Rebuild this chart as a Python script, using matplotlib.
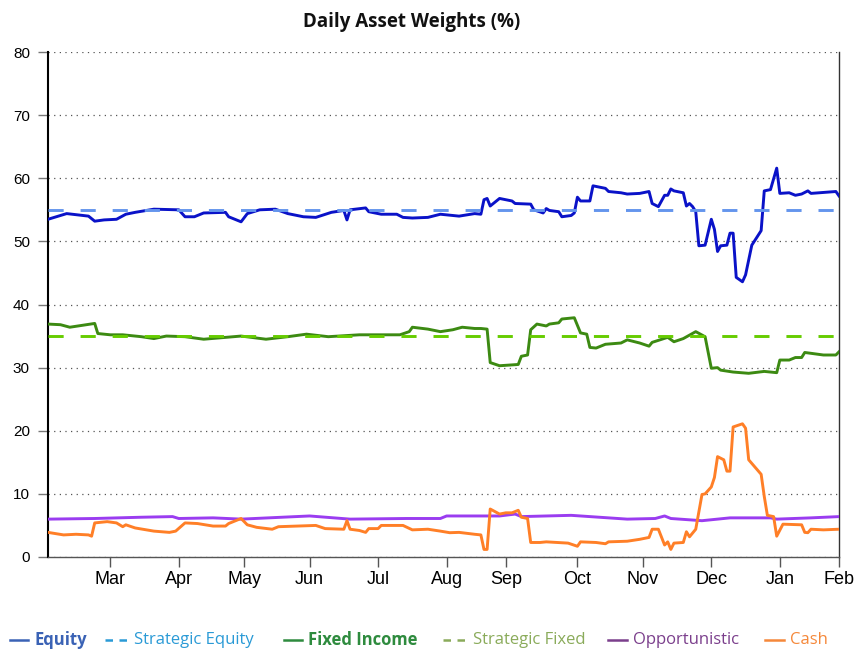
import matplotlib
matplotlib.use("Agg")
import matplotlib.pyplot as plt
from matplotlib.lines import Line2D

# trading-day index (x) and weight in % (y) for each series
equity_x = [0, 2, 6, 13, 15, 18, 22, 25, 28, 34, 42, 44, 47, 50, 57, 58, 62, 64, 68, 73,
            77, 82, 86, 91, 95, 96, 97, 102, 103, 107, 112, 114, 117, 122, 126, 132, 137,
            139, 140, 141, 142, 145, 147, 149, 150, 155, 156, 159, 160, 161, 164, 165, 168,
            169, 170, 171, 174, 175, 179, 180, 184, 186, 190, 193, 194, 196, 198, 199, 200,
            201, 204, 205, 206, 207, 208, 209, 211, 213, 214, 215, 216, 218, 219, 220, 221,
            223, 224, 226, 229, 230, 232, 234, 235, 238, 240, 242, 244, 245, 253, 254]
equity_y = [53.5, 53.8, 54.4, 54.0, 53.2, 53.4, 53.5, 54.3, 54.6, 55.1, 55.0, 53.9, 53.9,
            54.5, 54.6, 53.9, 53.1, 54.4, 55.0, 55.1, 54.4, 53.9, 53.8, 54.6, 54.9, 53.4,
            55.0, 55.3, 54.7, 54.3, 54.3, 53.8, 53.7, 53.8, 54.3, 54.0, 54.4, 54.3, 56.6,
            56.8, 55.6, 56.8, 56.6, 56.4, 56.0, 55.9, 55.0, 54.5, 55.2, 54.9, 54.7, 53.9,
            54.1, 54.5, 57.0, 56.4, 56.4, 58.8, 58.4, 57.9, 57.7, 57.5, 57.6, 57.9, 56.0,
            55.5, 57.3, 57.3, 58.3, 58.0, 57.7, 55.6, 56.0, 55.5, 54.7, 49.3, 49.4, 53.5,
            51.9, 48.4, 49.3, 49.4, 51.3, 51.3, 44.3, 43.6, 44.7, 49.4, 51.7, 58.0, 58.2,
            61.6, 57.6, 57.7, 57.3, 57.5, 58.0, 57.6, 57.9, 57.2]

fixed_x = [0, 4, 7, 15, 16, 20, 24, 30, 34, 38, 44, 50, 62, 70, 77, 83, 90, 100, 113, 116,
           117, 122, 126, 130, 133, 137, 139, 141, 142, 145, 151, 152, 154, 155, 157, 160,
           161, 164, 165, 169, 171, 173, 174, 176, 179, 184, 186, 190, 193, 194, 199, 201,
           204, 208, 211, 213, 215, 216, 220, 225, 230, 234, 235, 238, 240, 242, 243, 249,
           253, 254]
fixed_y = [36.9, 36.8, 36.4, 37.0, 35.4, 35.2, 35.2, 34.9, 34.6, 35.0, 34.9, 34.5, 35.0,
           34.5, 34.9, 35.3, 34.9, 35.2, 35.2, 35.7, 36.4, 36.1, 35.7, 36.0, 36.4, 36.2,
           36.2, 36.1, 30.8, 30.3, 30.5, 31.8, 32.0, 36.0, 36.9, 36.6, 36.9, 37.1, 37.7,
           37.9, 35.5, 35.3, 33.2, 33.1, 33.7, 33.9, 34.4, 33.9, 33.4, 34.0, 34.8, 34.1,
           34.6, 35.7, 34.9, 29.9, 30.0, 29.6, 29.3, 29.1, 29.4, 29.2, 31.2, 31.2, 31.6,
           31.6, 32.4, 32.0, 32.0, 32.5]

opp_x = [0, 15, 30, 40, 42, 53, 62, 84, 97, 115, 126, 128, 145, 150, 152, 168, 186, 195,
         198, 200, 210, 219, 232, 234, 245, 254]
opp_y = [6.0, 6.1, 6.3, 6.4, 6.1, 6.2, 6.0, 6.5, 6.0, 6.1, 6.1, 6.5, 6.5, 6.8, 6.4, 6.6,
         6.0, 6.1, 6.5, 6.1, 5.75, 6.2, 6.2, 6.0, 6.2, 6.4]

cash_x = [0, 5, 9, 13, 14, 15, 19, 22, 24, 25, 28, 34, 39, 41, 44, 48, 53, 57, 58, 62, 64,
          67, 72, 74, 80, 86, 89, 95, 96, 97, 100, 102, 103, 106, 107, 114, 117, 122, 126,
          129, 132, 137, 139, 140, 141, 142, 145, 147, 149, 151, 152, 154, 155, 158, 160,
          167, 170, 171, 176, 179, 180, 186, 190, 193, 194, 196, 198, 199, 200, 201, 204,
          205, 206, 208, 210, 211, 213, 214, 215, 217, 218, 219, 220, 223, 224, 225, 229,
          230, 231, 233, 234, 236, 242, 243, 244, 245, 249, 254]
cash_y = [3.9, 3.5, 3.6, 3.5, 3.3, 5.4, 5.6, 5.4, 4.8, 5.1, 4.6, 4.1, 3.9, 4.1, 5.4, 5.3,
          4.9, 4.9, 5.3, 6.1, 5.1, 4.7, 4.4, 4.8, 4.9, 5.0, 4.5, 4.4, 5.75, 4.4, 4.2, 3.9,
          4.5, 4.5, 5.0, 5.0, 4.3, 4.4, 4.1, 3.85, 3.9, 3.6, 3.5, 1.2, 1.2, 7.6, 6.8, 7.0,
          7.0, 7.4, 6.3, 6.1, 2.3, 2.3, 2.4, 2.2, 1.7, 2.4, 2.3, 2.1, 2.4, 2.5, 2.8, 3.1,
          4.4, 4.4, 1.9, 2.4, 1.2, 2.2, 2.3, 4.0, 3.2, 4.4, 9.9, 10.0, 11.1, 12.6, 15.9,
          15.4, 13.6, 13.6, 20.6, 21.1, 20.4, 15.4, 13.1, 9.6, 6.6, 6.4, 3.3, 5.2, 5.1,
          3.9, 3.85, 4.4, 4.3, 4.4]

strategic_equity = 55
strategic_fixed = 35

month_pos = [20, 42, 63, 84, 106, 128, 147, 170, 191, 213, 235, 254]
month_labels = ["Mar", "Apr", "May", "Jun", "Jul", "Aug", "Sep", "Oct", "Nov", "Dec", "Jan", "Feb"]
n_days = 254

fig = plt.figure(figsize=(8.59, 6.49), dpi=100)
ax = fig.add_axes([48 / 859, 1 - 557 / 649, 791 / 859, 505 / 649])

lw = 2.1
dash = (5.2, 5.8)
ax.plot(equity_x, equity_y, color="#0a12c8", lw=lw, zorder=3)
ax.plot([0, n_days], [strategic_equity] * 2, color="#6495ed", lw=lw, dashes=dash, zorder=4)
ax.plot(fixed_x, fixed_y, color="#3c8a12", lw=lw, zorder=3)
ax.plot([0, n_days], [strategic_fixed] * 2, color="#66cc00", lw=lw, dashes=dash, zorder=4)
ax.plot(opp_x, opp_y, color="#9a3cf0", lw=lw, zorder=3)
ax.plot(cash_x, cash_y, color="#ff7f27", lw=lw, zorder=3)

ax.set_xlim(0, n_days)
ax.set_ylim(0, 80)
ax.set_yticks(range(0, 81, 10))
ax.set_xticks(month_pos)
ax.set_xticklabels(month_labels)
ax.grid(axis="y", color="#555555", lw=0.9, linestyle=(0, (1, 3.5)))
ax.set_axisbelow(True)

for lab in ax.get_xticklabels():
    lab.set_fontfamily("Liberation Sans")
    lab.set_fontsize(13)
for lab in ax.get_yticklabels():
    lab.set_fontfamily("Liberation Sans")
    lab.set_fontsize(11)
ax.tick_params(axis="x", direction="out", length=7, width=1, color="#555555", pad=3)
ax.tick_params(axis="y", direction="out", length=7, width=1, color="#777777", pad=6)

ax.spines["top"].set_visible(False)
ax.spines["left"].set_color("black")
ax.spines["left"].set_linewidth(1.5)
ax.spines["right"].set_color("#333333")
ax.spines["right"].set_linewidth(1.0)
ax.spines["bottom"].set_color("#555555")
ax.spines["bottom"].set_linewidth(1.0)

fig.text(412 / 859, 1 - 22 / 649, "Daily Asset Weights (%)", ha="center", va="center",
         fontsize=13.5, fontweight="bold", family="Open Sans", color="#111111")

# legend drawn by hand along the bottom
legend_items = [
    ("Equity", "#3a62b5", "-", "bold", 10, 34),
    ("Strategic Equity", "#2a9ad6", "--", "normal", 105, 134),
    ("Fixed Income", "#2e8b3e", "-", "bold", 284, 308),
    ("Strategic Fixed", "#8aab5a", "--", "normal", 443, 473),
    ("Opportunistic", "#7b3f8c", "-", "normal", 608, 633),
    ("Cash", "#f5883a", "-", "normal", 765, 790),
]
ly = 1 - 640 / 649
for label, col, ls, weight, x0, xt in legend_items:
    x1 = xt - 6
    if ls == "--":
        fig.add_artist(Line2D([x0 / 859, x1 / 859], [ly, ly], color=col, lw=1.8,
                              dashes=(3.0, 2.6), transform=fig.transFigure))
    else:
        fig.add_artist(Line2D([x0 / 859, x1 / 859], [ly, ly], color=col, lw=1.8,
                              transform=fig.transFigure))
    fig.text(xt / 859, ly, label, ha="left", va="center", fontsize=12,
             fontweight=weight, family="Open Sans", color=col)

fig.savefig("out.png", dpi=100)
